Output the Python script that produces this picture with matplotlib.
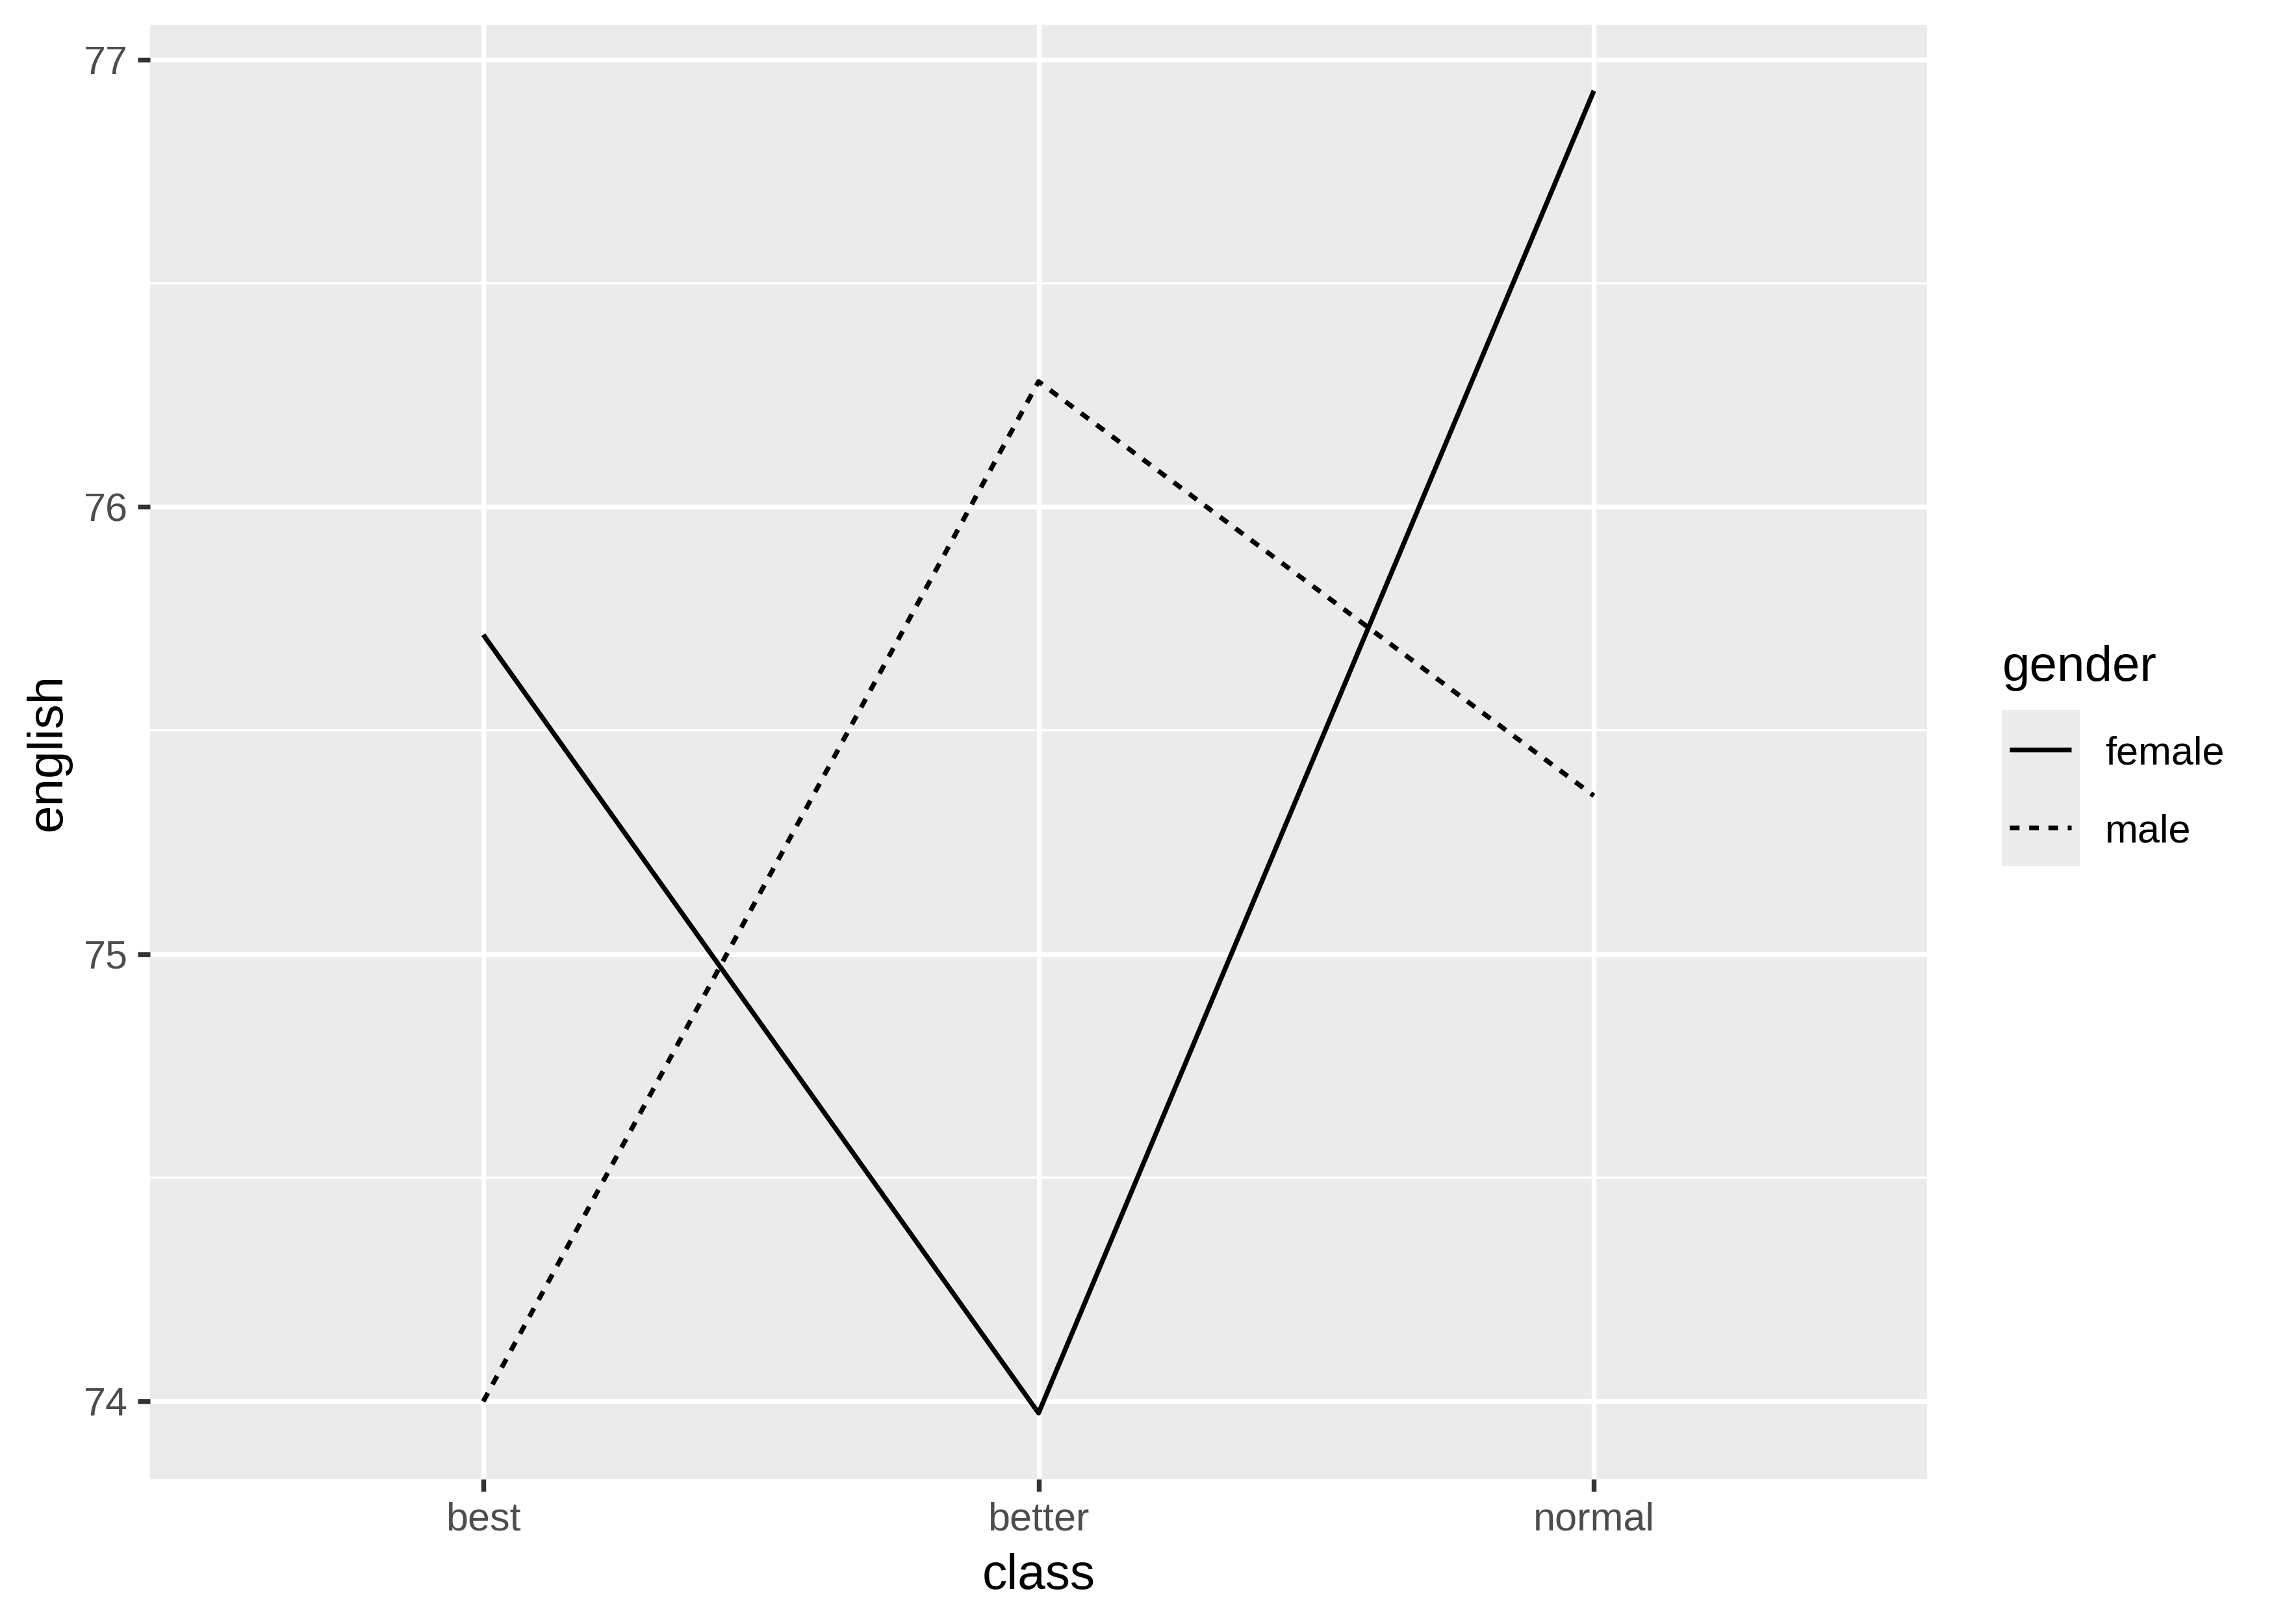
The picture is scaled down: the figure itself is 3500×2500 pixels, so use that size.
import matplotlib.pyplot as plt
from matplotlib.lines import Line2D
from matplotlib.patches import Rectangle

# data
classes = ["best", "better", "normal"]
genders = ["female", "male"]
female = [75.714, 73.974, 76.93]
male = [74.0, 76.28, 75.354]
y_ticks = [74, 75, 76, 77]
y_minor = [74.5, 75.5, 76.5]

plt.rcParams['font.family'] = ['Liberation Sans', 'DejaVu Sans']

fig = plt.figure(figsize=(3500 / 300, 2500 / 300), dpi=300)
ax = fig.add_axes([231 / 3500, 1 - 2277 / 2500, (2966 - 231) / 3500, (2277 - 38) / 2500])
ax.set_facecolor("#EBEBEB")
for s in ax.spines.values():
    s.set_visible(False)

x = list(range(1, len(classes) + 1))
lw = 1.78
dashes = (0, (2, 2))

# grid
for v in y_minor:
    ax.axhline(v, color="white", lw=lw / 2, zorder=1)
for v in y_ticks:
    ax.axhline(v, color="white", lw=lw, zorder=1)
for v in x:
    ax.axvline(v, color="white", lw=lw, zorder=1)

ax.plot(x, female, color="black", lw=lw, zorder=3, solid_capstyle="butt")
ax.plot(x, male, color="black", lw=lw, linestyle=dashes, zorder=3, dash_capstyle="butt")

allv = female + male
r = max(allv) - min(allv)
ax.set_ylim(min(allv) - 0.05 * r, max(allv) + 0.05 * r)
ax.set_xlim(0.4, len(classes) + 0.6)

ax.set_xticks(x)
ax.set_xticklabels(classes)
ax.set_yticks(y_ticks)
ax.set_yticklabels([str(v) for v in y_ticks])
ax.tick_params(axis="both", length=4.58, width=lw, color="#333333",
               labelsize=14.67, labelcolor="#4D4D4D", pad=3.67)

ax.set_xlabel("class", fontsize=18.33, color="black", labelpad=5.5)
ax.set_ylabel("english", fontsize=18.33, color="black", labelpad=4.58)

# legend drawn by hand, ggplot style
W, H = 3500, 2500
fig.text(3082 / W, 1 - 1048 / H, "gender", fontsize=18.33, ha="left", va="baseline")
fig.patches.append(Rectangle((3081 / W, 1 - 1333 / H), 120 / W, 240 / H,
                             transform=fig.transFigure, facecolor="#EBEBEB",
                             edgecolor="none"))
styles = ["-", dashes]
for i, g in enumerate(genders):
    yc = 1 - (1154 + 120 * i) / H
    fig.lines.append(Line2D([3093 / W, 3188 / W], [yc, yc], transform=fig.transFigure,
                            color="black", lw=lw, linestyle=styles[i],
                            solid_capstyle="butt", dash_capstyle="butt"))
    fig.text(3240 / W, yc - 7 / H, g, fontsize=14.67, ha="left", va="center")

fig.savefig("out.png", dpi=300)
